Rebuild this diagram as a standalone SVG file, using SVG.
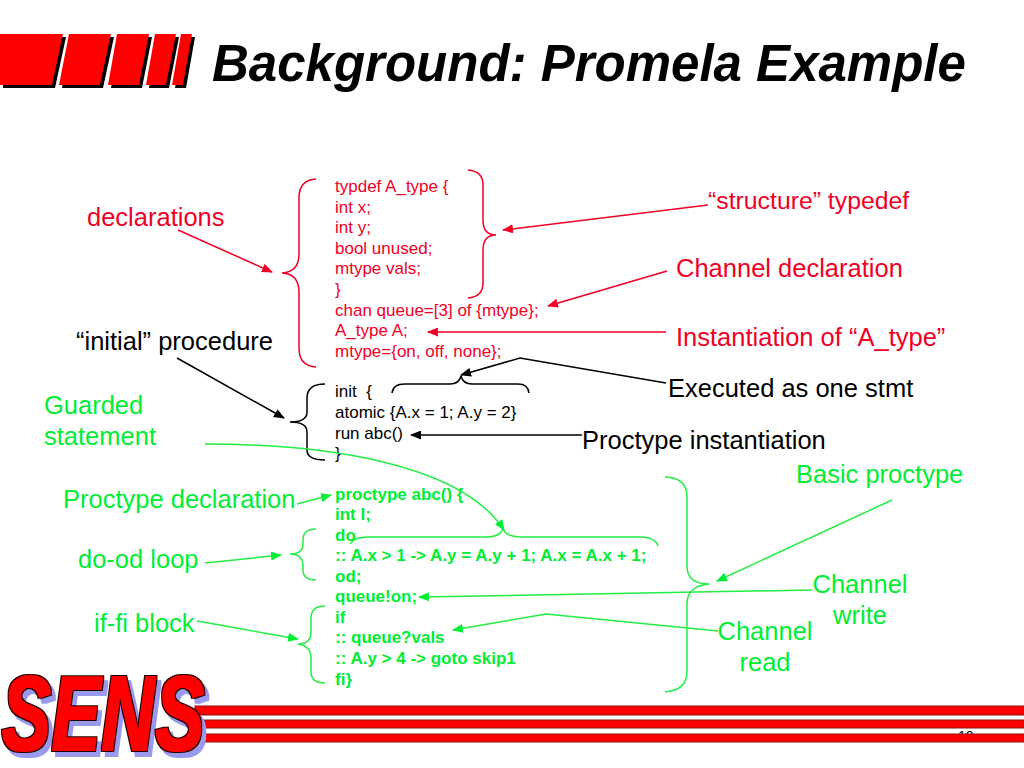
<svg xmlns="http://www.w3.org/2000/svg" width="1024" height="768" viewBox="0 0 1024 768">
<style>
text{font-family:"Liberation Sans",Arial,sans-serif}
.title{font-size:51px;font-weight:bold;font-style:italic;fill:#000}
.code{font-size:17px}
.lab{font-size:25.5px}
.r{fill:#f00026}.k{fill:#000}.g{fill:#00ee33}
.gb{fill:#00ee33;font-weight:bold}
.br{fill:none;stroke-width:1.5}
.ln{fill:none;stroke-width:1.5}
.rs{stroke:#f00026}.ks{stroke:#000}.gs{stroke:#22ee44}
.sens{font-size:106px;font-weight:bold;font-style:italic;fill:#000;letter-spacing:1.500px}
.bar{fill:#f00;stroke:#8a1010;stroke-width:1}
</style>
<defs>
<marker id="ar" markerWidth="11" markerHeight="9" refX="10" refY="4.500" orient="auto" markerUnits="userSpaceOnUse"><path d="M0 0L11 4.500L0 9Z" fill="#f00026"/></marker>
<marker id="ak" markerWidth="11" markerHeight="9" refX="10" refY="4.500" orient="auto" markerUnits="userSpaceOnUse"><path d="M0 0L11 4.500L0 9Z" fill="#000"/></marker>
<marker id="ag" markerWidth="11" markerHeight="9" refX="10" refY="4.500" orient="auto" markerUnits="userSpaceOnUse"><path d="M0 0L11 4.500L0 9Z" fill="#00ee33"/></marker>
<filter id="sensfx" x="-10%" y="-10%" width="130%" height="130%" color-interpolation-filters="sRGB">
<feMorphology in="SourceAlpha" operator="dilate" radius="1.800 1.300" result="a"/>
<feMorphology in="SourceAlpha" operator="dilate" radius="3.100 2.200" result="b"/>
<feOffset in="b" dx="6.500" dy="4.500" result="c"/>
<feFlood flood-color="#9999ee"/><feComposite in2="c" operator="in" result="shadow"/>
<feFlood flood-color="#220000"/><feComposite in2="b" operator="in" result="outline"/>
<feFlood flood-color="#ff0000"/><feComposite in2="a" operator="in" result="fillc"/>
<feMerge><feMergeNode in="shadow"/><feMergeNode in="outline"/><feMergeNode in="fillc"/></feMerge>
</filter>
</defs>

<g id="title-decoration">
<path fill="#000" d="M3 37H66L55 88H3ZM72 37H114L103 88H62ZM120 37H152L142 88H111ZM158 37H179L169 88H149ZM184 37H195L186 88H175Z"/>
<path fill="#f00" d="M0 34H63L52 85H0ZM69 34H111L100 85H59ZM117 34H149L139 85H108ZM155 34H176L166 85H146ZM181 34H192L183 85H172Z"/>
</g>
<text id="title" class="title" x="212" y="81">Background: Promela Example</text>

<g id="footer">
<text x="958" y="741" font-size="14" class="k">10</text>
<rect class="bar" x="195" y="706" width="829" height="9"/>
<rect class="bar" x="195" y="720" width="829" height="8"/>
<rect class="bar" x="195" y="734" width="829" height="8"/>
<text class="sens" transform="translate(2,750) scale(.69,1)" filter="url(#sensfx)">SENS</text>
</g>

<g id="code-red" class="code r">
<text x="335" y="192">typdef A_type {</text>
<text x="335" y="212.500">int x;</text>
<text x="335" y="233">int y;</text>
<text x="335" y="253.500">bool unused;</text>
<text x="335" y="274">mtype vals;</text>
<text x="335" y="295">}</text>
<text x="335" y="315.500">chan queue=[3] of {mtype};</text>
<text x="335" y="336">A_type A;</text>
<text x="335" y="356.500">mtype={on, off, none};</text>
</g>
<g id="code-black" class="code k">
<text x="335" y="397" style="white-space:pre">init  {</text>
<text x="335" y="418">atomic {A.x = 1; A.y = 2}</text>
<text x="335" y="438.500">run abc()</text>
<text x="335" y="459">}</text>
</g>
<g id="code-green" class="code gb">
<text x="335" y="499.500">proctype abc() {</text>
<text x="335" y="520">int I;</text>
<text x="335" y="540.500">do</text>
<text x="335" y="561">:: A.x &gt; 1 -&gt; A.y = A.y + 1; A.x = A.x + 1;</text>
<text x="335" y="581.500">od;</text>
<text x="335" y="602">queue!on;</text>
<text x="335" y="622.500">if</text>
<text x="335" y="643">:: queue?vals</text>
<text x="335" y="664">:: A.y &gt; 4 -&gt; goto skip1</text>
<text x="335" y="684.500">fi}</text>
</g>

<g id="braces">
<path class="br rs" d="M316 179Q299 180 299 198V254Q299 272 282 273Q299 274 299 292V348Q299 366 316 367"/>
<path class="br rs" d="M468 170Q483 171 483 185V220Q483 235 496 235Q483 235 483 250V283Q483 297 468 298"/>
<path class="br ks" d="M325 384Q307 384 307 398V412Q307 422 290 422Q307 422 307 432V450Q307 460 325 460"/>
<path class="br ks" d="M392 393Q393 384 405 384H450Q459 384 461 376Q463 384 472 384H518Q528 384 529 393"/>
<path class="br gs" d="M316 529Q303 529 303 540V544Q303 554 290 554Q303 554 303 566V570Q303 580 316 580"/>
<path class="br gs" d="M325 606Q311 606 311 618V632Q311 644 298 644Q311 646 311 658V672Q311 683 325 683"/>
<path class="br gs" d="M350 544Q354 537 368 537H485Q501 537 503 528Q505 537 522 537H640Q655 537 658 546"/>
<path class="br gs" d="M665 477Q687 478 687 496V566Q687 584 709 584Q687 586 687 604V672Q687 690 665 692"/>
</g>

<g id="connectors">
<path class="ln rs" marker-end="url(#ar)" d="M178 230L272 272"/>
<path class="ln rs" marker-end="url(#ar)" d="M708 205L503 230"/>
<path class="ln rs" marker-end="url(#ar)" d="M667 271L548 306"/>
<path class="ln rs" marker-end="url(#ar)" d="M666 332H428"/>
<path class="ln ks" marker-end="url(#ak)" d="M177 358L284 418"/>
<path class="ln ks" marker-end="url(#ak)" d="M666 383L520 358L461 375"/>
<path class="ln ks" marker-end="url(#ak)" d="M582 435H411"/>
<path class="ln gs" marker-end="url(#ag)" d="M205 444C320 444 460 462 504 530"/>
<path class="ln gs" marker-end="url(#ag)" d="M297 504L331 495"/>
<path class="ln gs" marker-end="url(#ag)" d="M205 563L281 555"/>
<path class="ln gs" marker-end="url(#ag)" d="M197 621L298 639"/>
<path class="ln gs" marker-end="url(#ag)" d="M892 500L717 581"/>
<path class="ln gs" marker-end="url(#ag)" d="M812 590L419 597"/>
<path class="ln gs" marker-end="url(#ag)" d="M718 631L546 614L453 630"/>
</g>

<g id="labels" class="lab">
<text id="declarations" class="r" x="87" y="226">declarations</text>
<text id="structure-typedef" class="r" x="708" y="209" style="font-size:24.800px">“structure” typedef</text>
<text id="channel-declaration" class="r" x="676" y="277">Channel declaration</text>
<text id="instantiation" class="r" x="676" y="346">Instantiation of “A_type”</text>
<text id="initial-procedure" class="k" x="76" y="350">“initial” procedure</text>
<text id="executed" class="k" x="668" y="397">Executed as one stmt</text>
<text id="proctype-instantiation" class="k" x="582" y="449">Proctype instantiation</text>
<text id="guarded" class="g"><tspan x="44" y="414">Guarded</tspan><tspan x="44" y="445">statement</tspan></text>
<text id="basic-proctype" class="g" x="796" y="483">Basic proctype</text>
<text id="proctype-declaration" class="g" x="63" y="508">Proctype declaration</text>
<text id="do-od" class="g" x="78" y="568">do-od loop</text>
<text id="if-fi" class="g" x="94" y="632">if-fi block</text>
<text id="channel-write" class="g" text-anchor="middle"><tspan x="860" y="593">Channel</tspan><tspan x="860" y="624">write</tspan></text>
<text id="channel-read" class="g" text-anchor="middle"><tspan x="765" y="640">Channel</tspan><tspan x="765" y="671">read</tspan></text>
</g>
</svg>
